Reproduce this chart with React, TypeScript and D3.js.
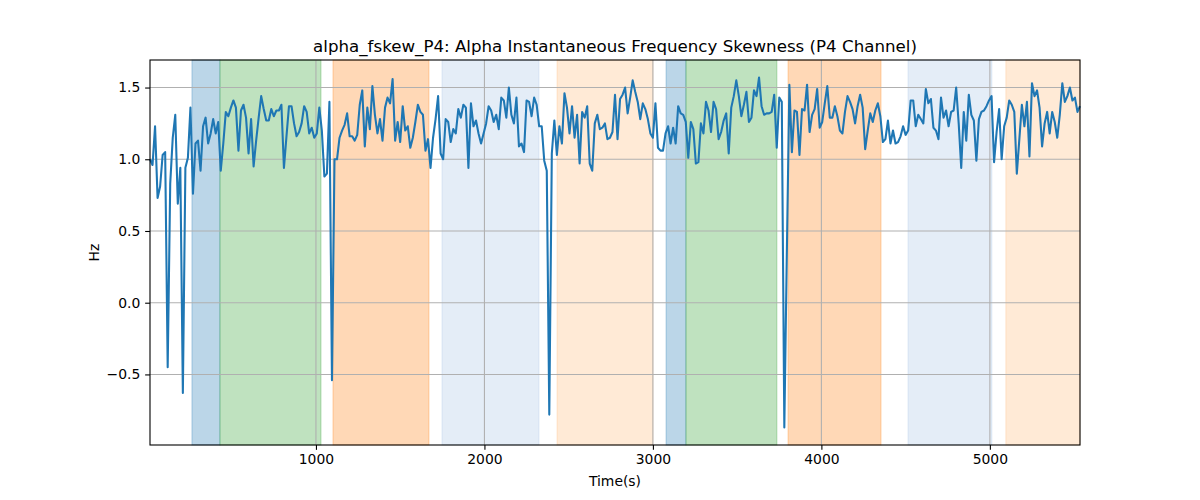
import React, { useEffect, useRef } from 'react';
import * as d3 from 'd3';

// alpha_fskew_P4 samples, one every SAMPLE_STEP seconds starting at SAMPLE_STEP
const SAMPLE_STEP = 15;
const skewness: number[] = [
  1.00, 0.96, 1.23, 0.73, 0.81, 1.03, 1.05, -0.45, 0.83, 1.15, 1.31,
  0.69, 0.94, -0.63, 0.94, 1.01, 1.36, 0.76, 1.11, 1.13, 0.92,
  1.23, 1.29, 1.11, 1.18, 1.28, 1.18, 1.26, 0.92, 1.11, 1.33,
  1.30, 1.36, 1.41, 1.36, 1.06, 1.34, 1.38, 1.29, 1.04, 1.28,
  0.95, 1.13, 1.29, 1.44, 1.35, 1.27, 1.27, 1.35, 1.30, 1.34,
  1.34, 1.38, 0.94, 1.16, 1.37, 1.37, 1.25, 1.16, 1.19, 1.25,
  1.37, 1.33, 1.18, 1.22, 1.15, 1.18, 1.36, 1.20, 0.88, 0.90,
  1.40, -0.54, 1.00, 1.00, 1.15, 1.20, 1.24, 1.32, 1.16, 1.16,
  1.13, 1.17, 1.38, 1.48, 1.09, 1.36, 1.21, 1.51, 1.31, 1.18,
  1.28, 1.13, 1.36, 1.43, 1.39, 1.56, 1.13, 1.26, 1.12, 1.37,
  1.20, 1.23, 1.08, 1.15, 1.26, 1.38, 1.33, 1.31, 1.06, 1.14,
  0.94, 1.15, 1.28, 1.44, 1.04, 1.00, 1.28, 1.26, 1.12, 1.21,
  1.18, 1.35, 1.29, 1.38, 1.36, 0.94, 1.39, 1.23, 1.27, 1.18,
  1.11, 1.18, 1.25, 1.37, 1.34, 1.26, 1.31, 1.21, 1.43, 1.41,
  1.29, 1.50, 1.31, 1.25, 1.43, 1.09, 1.11, 1.05, 1.41, 1.40,
  1.30, 1.43, 1.38, 1.23, 1.23, 0.99, 0.92, -0.78, 1.04, 1.27,
  1.03, 1.23, 1.11, 1.46, 1.36, 1.18, 1.37, 1.15, 1.31, 0.97,
  1.33, 1.29, 1.37, 0.97, 0.92, 1.25, 1.31, 1.21, 1.22, 1.25,
  1.14, 1.15, 1.19, 1.45, 1.14, 1.42, 1.45, 1.50, 1.32, 1.43,
  1.55, 1.47, 1.40, 1.28, 1.39, 1.35, 1.28, 1.18, 1.15, 1.39,
  1.08, 1.06, 1.06, 1.18, 1.23, 1.11, 1.22, 1.11, 1.37, 1.32,
  1.31, 1.26, 1.01, 1.26, 1.21, 0.97, 0.98, 1.25, 1.18, 1.40,
  1.34, 1.19, 1.40, 1.35, 1.14, 1.19, 1.27, 1.32, 1.04, 1.36,
  1.44, 1.55, 1.44, 1.30, 1.38, 1.47, 1.26, 1.29, 1.48, 1.44,
  1.57, 1.37, 1.31, 1.32, 1.32, 1.33, 1.45, 1.08, 1.43, 1.40,
  -0.87, 0.35, 1.52, 1.05, 1.34, 1.33, 1.03, 1.35, 1.34, 1.52,
  1.19, 1.31, 1.35, 1.49, 1.22, 1.26, 1.39, 1.51, 1.29, 1.29,
  1.37, 1.30,
  1.20, 1.18, 1.33, 1.44, 1.40, 1.35, 1.25, 1.37, 1.45, 1.36,
  1.07, 1.20, 1.32, 1.26, 1.34, 1.39, 1.30, 1.12, 1.14, 1.27,
  1.11, 1.20, 1.11, 1.12, 1.16, 1.23, 1.17, 1.20, 1.41, 1.41,
  1.23, 1.31, 1.28, 1.25, 1.49, 1.39, 1.42, 1.22, 1.20, 1.14,
  1.43, 1.29, 1.34, 1.23, 1.33, 1.34, 1.50, 1.25, 0.94, 1.33,
  1.13, 1.45, 1.31, 1.27, 0.99, 1.28, 1.33, 1.34, 1.37, 1.41,
  1.44, 0.98, 1.19, 1.35, 1.00, 1.23, 1.29, 1.41, 1.38, 1.33,
  0.90, 1.14, 1.38, 1.23, 1.40, 1.02, 1.53, 1.44, 1.48, 1.36,
  1.09, 1.25, 1.33, 1.18, 1.33, 1.26, 1.15, 1.31, 1.53, 1.40,
  1.44, 1.50, 1.41, 1.43, 1.33, 1.37,
];

// shaded segments (seconds)
const spanStarts = [264, 430, 1101, 1748, 2431, 3078, 3196, 3802, 4514, 5095];
const spanEnds = [430, 1030, 1671, 2324, 3000, 3196, 3736, 4354, 5012, 5535];
const spanKinds = ['A', 'B', 'C', 'D', 'E', 'A', 'B', 'C', 'D', 'E'];

const xTicks = [1000, 2000, 3000, 4000, 5000];
const yTicks = [-0.5, 0.0, 0.5, 1.0, 1.5];

const kindFill: Record<string, string> = {
  A: '#1f77b4', B: '#2ca02c', C: '#ff7f0e', D: '#aec7e8', E: '#ffbb78',
};
const kindAlpha: Record<string, number> = { A: 0.3, B: 0.3, C: 0.3, D: 0.33, E: 0.3 };

const FONT = '"DejaVu Sans", sans-serif';

const App: React.FC = () => {
  const ref = useRef<SVGSVGElement | null>(null);

  useEffect(() => {
    if (!ref.current) return;
    const svg = d3.select(ref.current);
    svg.selectAll('*').remove();

    const margin = { top: 60, right: 120, bottom: 55, left: 150 };
    const width = 1200 - margin.left - margin.right;
    const height = 500 - margin.top - margin.bottom;

    const times = skewness.map((_, i) => (i + 1) * SAMPLE_STEP);
    const points = times.map((t, i) => ({ t, v: skewness[i] }));

    const x = d3.scaleLinear()
      .domain(d3.extent(times) as [number, number])
      .range([0, width]);

    // matplotlib-style 5% padding
    const [lo, hi] = d3.extent(skewness) as [number, number];
    const pad = (hi - lo) * 0.05;
    const y = d3.scaleLinear().domain([lo - pad, hi + pad]).range([height, 0]);

    const g = svg.append('g').attr('transform', `translate(${margin.left},${margin.top})`);

    // spans
    g.selectAll('rect.span')
      .data(spanStarts.map((s, i) => ({ s, e: spanEnds[i], k: spanKinds[i] })))
      .enter()
      .append('rect')
      .attr('class', 'span')
      .attr('x', d => x(d.s))
      .attr('y', 0)
      .attr('width', d => Math.min(x(d.e), width) - x(d.s))
      .attr('height', height)
      .attr('fill', d => kindFill[d.k])
      .attr('fill-opacity', d => kindAlpha[d.k])
      .attr('stroke', d => kindFill[d.k])
      .attr('stroke-opacity', d => kindAlpha[d.k])
      .attr('stroke-width', 1);

    // grid
    g.selectAll('line.gx')
      .data(xTicks)
      .enter()
      .append('line')
      .attr('x1', d => x(d)).attr('x2', d => x(d))
      .attr('y1', 0).attr('y2', height)
      .attr('stroke', '#b0b0b0').attr('stroke-width', 1.1);
    g.selectAll('line.gy')
      .data(yTicks)
      .enter()
      .append('line')
      .attr('x1', 0).attr('x2', width)
      .attr('y1', d => y(d)).attr('y2', d => y(d))
      .attr('stroke', '#b0b0b0').attr('stroke-width', 1.1);

    // series
    const line = d3.line<{ t: number; v: number }>()
      .x(d => x(d.t))
      .y(d => y(d.v));
    g.append('path')
      .datum(points)
      .attr('d', line)
      .attr('fill', 'none')
      .attr('stroke', '#1f77b4')
      .attr('stroke-width', 2.08)
      .attr('stroke-linejoin', 'round');

    // axes
    const xAxis = g.append('g')
      .attr('transform', `translate(0,${height})`)
      .call(d3.axisBottom(x).tickValues(xTicks).tickFormat(d3.format('d')).tickSize(4.86).tickPadding(4.2));
    const yAxis = g.append('g')
      .call(d3.axisLeft(y).tickValues(yTicks).tickFormat(d3.format('.1f')).tickSize(4.86).tickPadding(4.86));
    [xAxis, yAxis].forEach(a => {
      a.select('.domain').remove();
      a.selectAll('line').attr('stroke', '#000').attr('stroke-width', 1.1);
      a.selectAll('text')
        .attr('fill', '#000')
        .style('font-family', FONT)
        .style('font-size', '13.9px');
    });

    // frame
    g.append('rect')
      .attr('width', width)
      .attr('height', height)
      .attr('fill', 'none')
      .attr('stroke', '#000')
      .attr('stroke-width', 1.1);

    // labels
    svg.append('text')
      .attr('x', margin.left + width / 2)
      .attr('y', 51.5)
      .attr('text-anchor', 'middle')
      .style('font-family', FONT)
      .style('font-size', '16.67px')
      .text('alpha_fskew_P4: Alpha Instantaneous Frequency Skewness (P4 Channel)');

    svg.append('text')
      .attr('x', margin.left + width / 2)
      .attr('y', 486)
      .attr('text-anchor', 'middle')
      .style('font-family', FONT)
      .style('font-size', '13.9px')
      .text('Time(s)');

    svg.append('text')
      .attr('transform', `translate(99,${margin.top + height / 2}) rotate(-90)`)
      .attr('text-anchor', 'middle')
      .style('font-family', FONT)
      .style('font-size', '13.9px')
      .text('Hz');
  }, []);

  return (
    <div style={{ position: 'absolute', left: 0, top: 0, width: 1200, height: 500, background: '#fff' }}>
      <svg ref={ref} width={1200} height={500} style={{ display: 'block' }} />
    </div>
  );
};

export default App;
